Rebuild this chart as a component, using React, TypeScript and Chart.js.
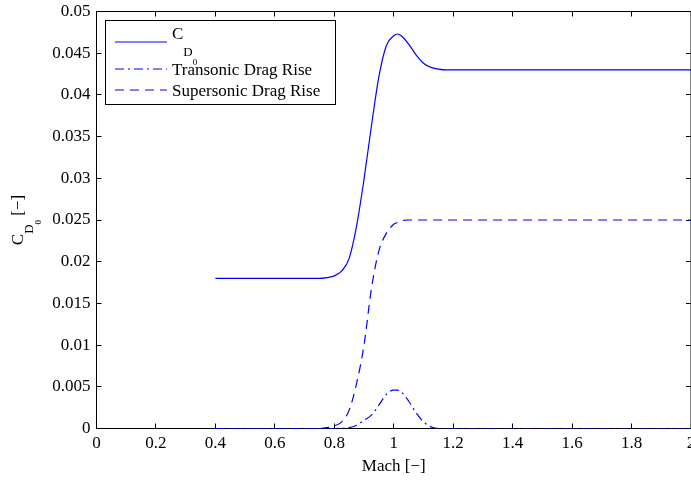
import React, { useEffect, useRef } from 'react';
import { Chart, registerables } from 'chart.js';

Chart.register(...registerables);

// Mach numbers (x)
const machValues = [
  0.4, 0.45, 0.5, 0.55, 0.6, 0.65, 0.7, 0.75, 0.775, 0.8, 0.825, 0.85, 0.875, 0.9,
  0.925, 0.95, 0.975, 1.0, 1.0125, 1.025, 1.05, 1.075, 1.1, 1.125, 1.15, 1.175, 1.2, 1.3,
  1.4, 1.5, 1.6, 1.7, 1.8, 1.9, 2.0,
];

// Total zero-lift drag coefficient
const cd0Values = [
  0.018, 0.018, 0.018, 0.018, 0.018, 0.018, 0.018, 0.018, 0.0181, 0.0183, 0.0189, 0.0204,
  0.0243, 0.0299, 0.0363, 0.0422, 0.0459, 0.0471, 0.0473, 0.0471, 0.0461, 0.0448, 0.0438,
  0.0433, 0.0431, 0.043, 0.043, 0.043, 0.043, 0.043, 0.043, 0.043, 0.043, 0.043, 0.043,
];

// Transonic drag rise
const transonicValues = [
  0, 0, 0, 0, 0, 0, 0, 0, 0, 0, 0.00002, 0.0001, 0.0004, 0.001, 0.0016, 0.0028, 0.0041,
  0.0046, 0.0046, 0.0044, 0.0033, 0.0019, 0.0008, 0.0002, 0, 0, 0, 0, 0, 0, 0, 0, 0, 0, 0,
];

// Supersonic drag rise
const supersonicValues = [
  0, 0, 0, 0, 0, 0, 0, 0, 0.0001, 0.0003, 0.0008, 0.0022, 0.0054, 0.01, 0.0168, 0.0213,
  0.0234, 0.0245, 0.0247, 0.0249, 0.025, 0.025, 0.025, 0.025, 0.025, 0.025, 0.025, 0.025,
  0.025, 0.025, 0.025, 0.025, 0.025, 0.025, 0.025,
];

const xTickLabels = ['0', '0.2', '0.4', '0.6', '0.8', '1', '1.2', '1.4', '1.6', '1.8', '2'];
const yTickLabels = ['0', '0.005', '0.01', '0.015', '0.02', '0.025', '0.03', '0.035', '0.04', '0.045', '0.05'];

const FONT = '"Liberation Serif", "Times New Roman", Times, serif';
const BLUE = '#0000ff';
const DASH = [9, 6];
const DASHDOT = [9, 4, 2, 4];

export default function App() {
  const ref = useRef<HTMLCanvasElement>(null);

  useEffect(() => {
    document.body.style.margin = '0';
    const canvas = ref.current!;
    const pts = (vals: number[]) => machValues.map((m, i) => ({ x: m, y: vals[i] }));

    const framePlugin = {
      id: 'frame',
      beforeDatasetsDraw(chart: any) {
        const c = chart.ctx as CanvasRenderingContext2D;
        const { left, right, top, bottom } = chart.chartArea;
        const xs = chart.scales.x;
        const ys = chart.scales.y;
        c.save();
        c.strokeStyle = '#000';
        c.lineWidth = 1;
        c.strokeRect(left, top, right - left, bottom - top);
        c.beginPath();
        const tl = 5;
        xs.ticks.forEach((t: any) => {
          const px = Math.round(xs.getPixelForValue(t.value) - 0.5) + 0.5;
          c.moveTo(px, bottom);
          c.lineTo(px, bottom - tl);
          c.moveTo(px, top);
          c.lineTo(px, top + tl);
        });
        ys.ticks.forEach((t: any) => {
          const py = Math.round(ys.getPixelForValue(t.value) - 0.5) + 0.5;
          c.moveTo(left, py);
          c.lineTo(left + tl, py);
          c.moveTo(right, py);
          c.lineTo(right - tl, py);
        });
        c.stroke();
        c.restore();
      },
      afterDraw(chart: any) {
        const c = chart.ctx as CanvasRenderingContext2D;
        const { left, right, top, bottom } = chart.chartArea;
        c.save();
        // Legend
        const lx = 105.5, ly = 20.5, lw = 230, lh = 84;
        c.fillStyle = '#fff';
        c.fillRect(lx, ly, lw, lh);
        c.strokeStyle = '#000';
        c.lineWidth = 1;
        c.strokeRect(lx, ly, lw, lh);
        const rows = [
          { y: 42, dash: [] as number[] },
          { y: 69, dash: DASHDOT },
          { y: 90, dash: DASH },
        ];
        c.strokeStyle = BLUE;
        c.lineWidth = 1.2;
        rows.forEach((r) => {
          c.setLineDash(r.dash);
          c.beginPath();
          c.moveTo(115, r.y);
          c.lineTo(167, r.y);
          c.stroke();
        });
        c.setLineDash([]);
        c.fillStyle = '#000';
        c.textBaseline = 'alphabetic';
        c.textAlign = 'left';
        // Row 1: C_{D_0}
        c.font = `17px ${FONT}`;
        c.fillText('C', 172, 39);
        const w = c.measureText('C').width;
        c.font = `13px ${FONT}`;
        c.fillText('D', 172 + w, 56);
        const wd = c.measureText('D').width;
        c.font = `9px ${FONT}`;
        c.fillText('0', 172 + w + wd, 65);
        c.font = `17px ${FONT}`;
        c.fillText('Transonic Drag Rise', 172, 75);
        c.fillText('Supersonic Drag Rise', 172, 96);

        // X title
        c.textAlign = 'center';
        c.font = `17px ${FONT}`;
        c.fillText('Mach [\u2212]', (left + right) / 2, 470.5);

        // Y title (rotated)
        const cy = (top + bottom) / 2;
        c.translate(0, cy);
        c.rotate(-Math.PI / 2);
        c.textAlign = 'left';
        c.font = `17px ${FONT}`;
        const wC = c.measureText('C').width;
        const wRest = c.measureText(' [\u2212]').width;
        c.font = `13px ${FONT}`;
        const wD = c.measureText('D').width;
        c.font = `9px ${FONT}`;
        const w0 = c.measureText('0').width;
        const total = wC + wD + w0 + wRest;
        let x = -total / 2;
        c.font = `17px ${FONT}`;
        c.fillText('C', x, 22.6);
        x += wC;
        c.font = `13px ${FONT}`;
        c.fillText('D', x, 33.3);
        x += wD;
        c.font = `9px ${FONT}`;
        c.fillText('0', x, 41);
        x += w0;
        c.font = `17px ${FONT}`;
        c.fillText(' [\u2212]', x, 22.6);
        c.restore();
      },
    };

    const chart = new Chart(canvas, {
      type: 'line',
      data: {
        datasets: [
          {
            label: 'CD0',
            data: pts(cd0Values),
            borderColor: BLUE,
            borderWidth: 1.2,
            pointRadius: 0,
            cubicInterpolationMode: 'monotone',
            fill: false,
          },
          {
            label: 'Transonic Drag Rise',
            data: pts(transonicValues),
            borderColor: BLUE,
            borderWidth: 1.2,
            borderDash: DASHDOT,
            pointRadius: 0,
            cubicInterpolationMode: 'monotone',
            fill: false,
          },
          {
            label: 'Supersonic Drag Rise',
            data: pts(supersonicValues),
            borderColor: BLUE,
            borderWidth: 1.2,
            borderDash: DASH,
            pointRadius: 0,
            cubicInterpolationMode: 'monotone',
            fill: false,
          },
        ],
      },
      options: {
        responsive: false,
        animation: false,
        devicePixelRatio: 1,
        layout: { padding: { top: 11.5, right: 0, left: 0, bottom: 0 } },
        plugins: { legend: { display: false }, tooltip: { enabled: false }, title: { display: false } },
        scales: {
          x: {
            type: 'linear',
            min: 0,
            max: 2,
            grid: { display: false, drawTicks: false },
            border: { display: false },
            ticks: {
              stepSize: 0.2,
              autoSkip: false,
              maxRotation: 0,
              padding: 5,
              color: '#000',
              font: { family: FONT, size: 17 },
              callback: (_v: any, i: number) => xTickLabels[i],
            },
            afterFit: (s: any) => {
              s.height = 52.5;
              s.paddingLeft = 0;
              s.paddingRight = 0;
            },
          },
          y: {
            type: 'linear',
            min: 0,
            max: 0.05,
            grid: { display: false, drawTicks: false },
            border: { display: false },
            ticks: {
              stepSize: 0.005,
              autoSkip: false,
              padding: 6,
              color: '#000',
              font: { family: FONT, size: 17 },
              callback: (_v: any, i: number) => yTickLabels[i],
            },
            afterFit: (s: any) => {
              s.width = 96.5;
              s.paddingTop = 0;
              s.paddingBottom = 0;
            },
          },
        },
      },
      plugins: [framePlugin],
    } as any);

    return () => chart.destroy();
  }, []);

  return (
    <div style={{ width: 691, height: 481 }}>
      <canvas ref={ref} width={691} height={481} style={{ display: 'block' }} />
    </div>
  );
}
